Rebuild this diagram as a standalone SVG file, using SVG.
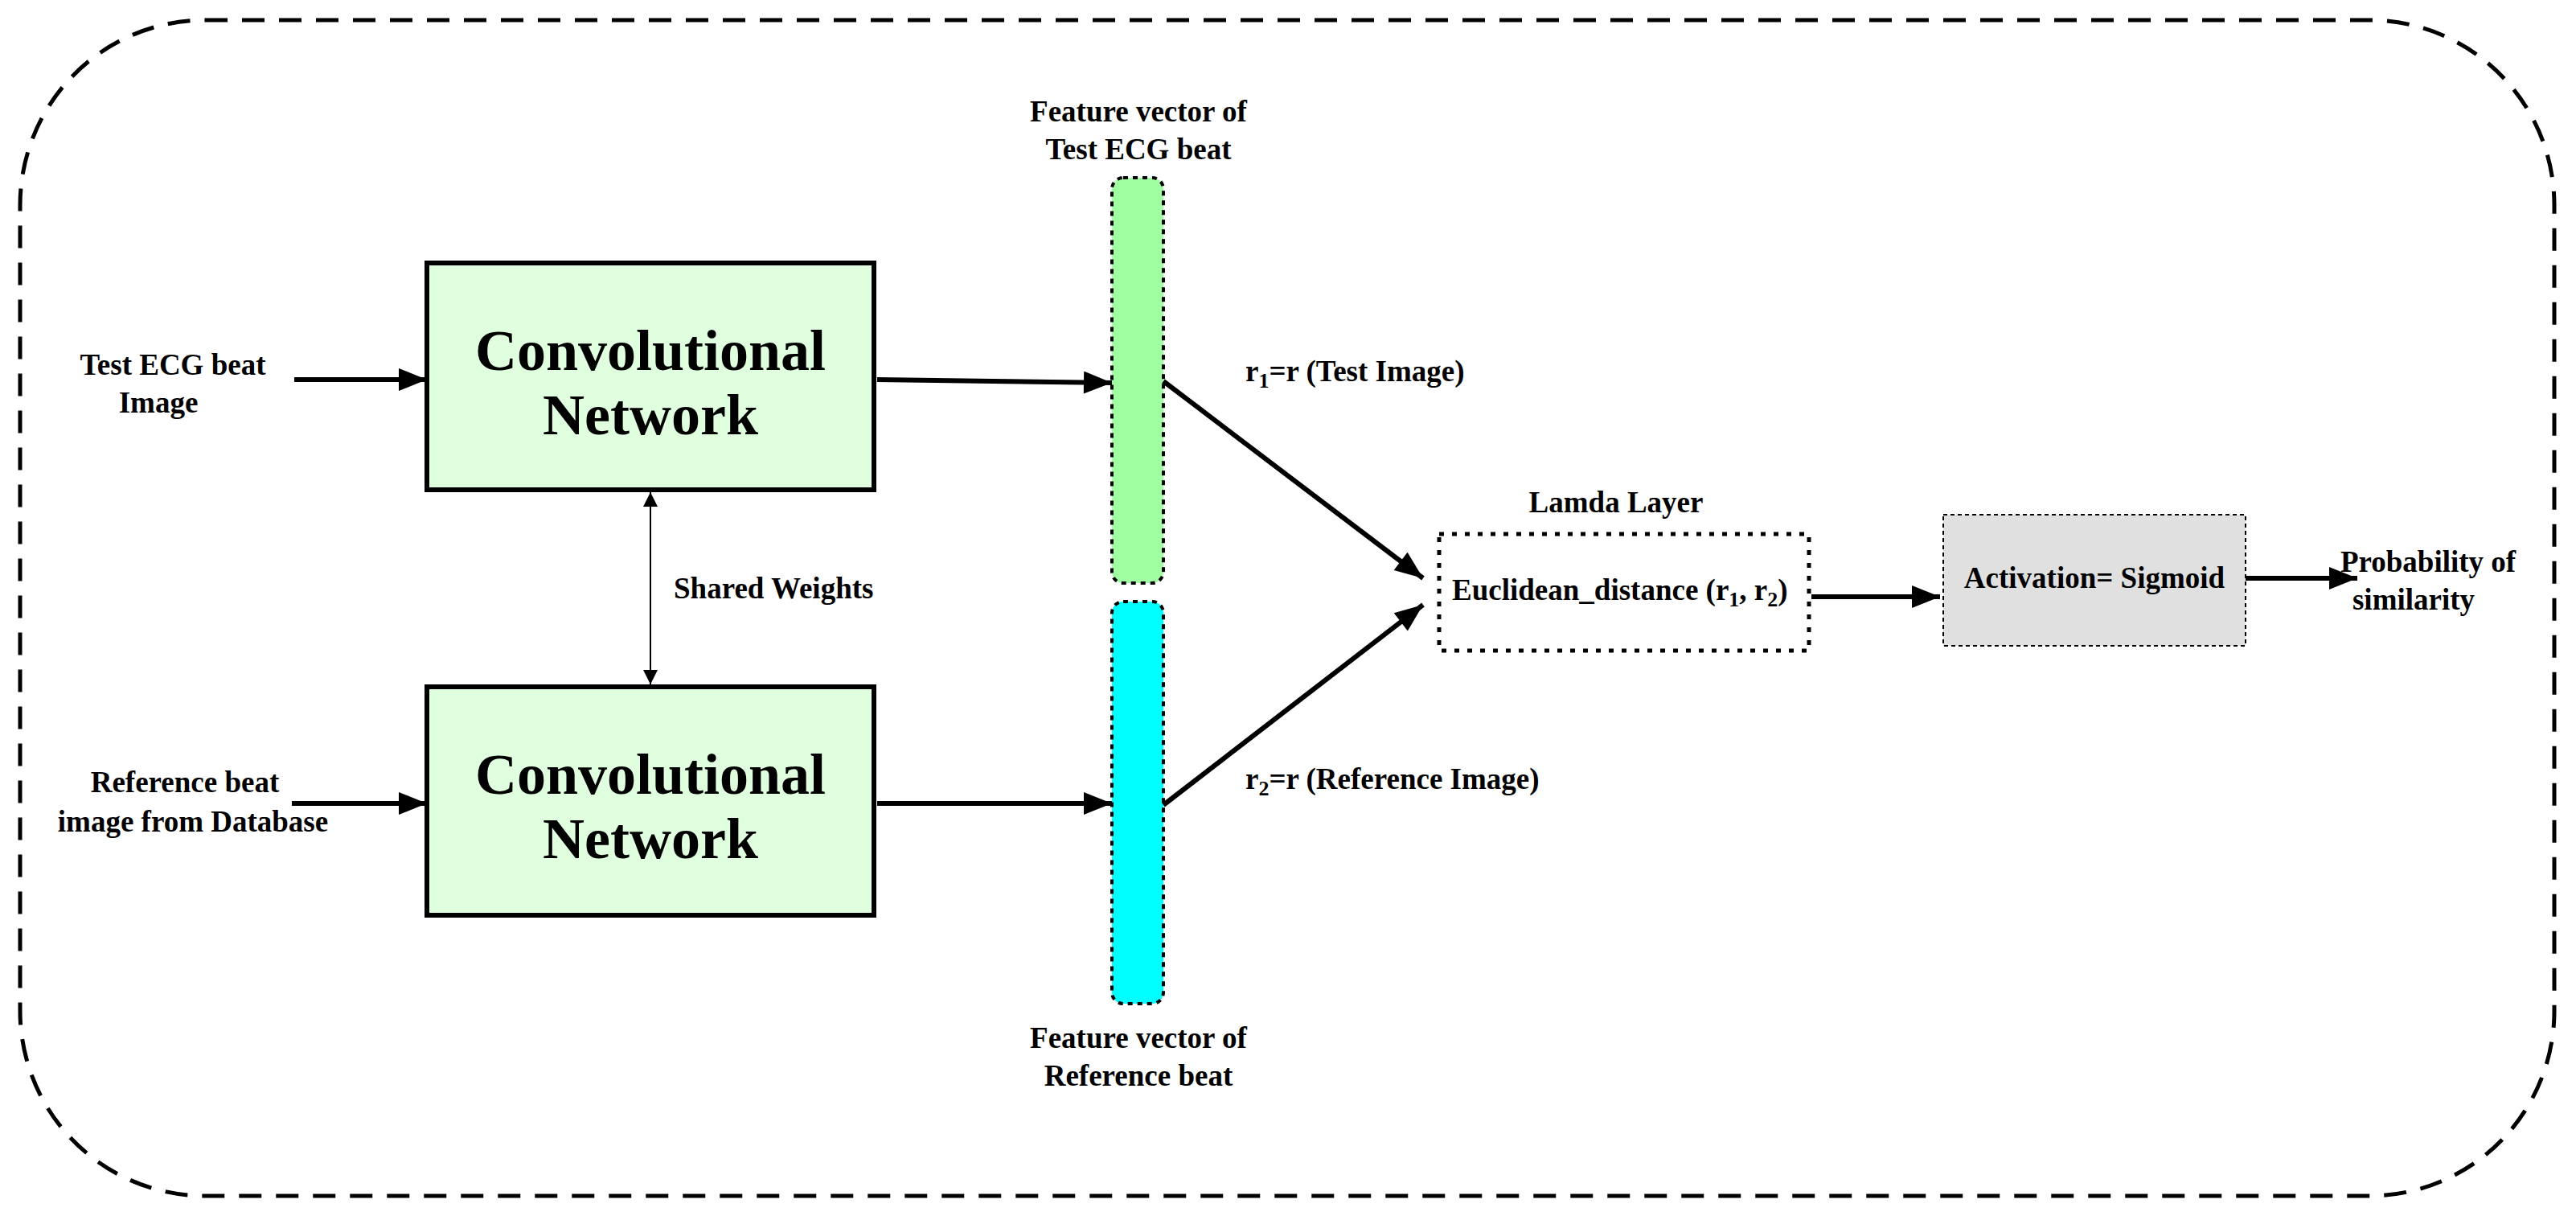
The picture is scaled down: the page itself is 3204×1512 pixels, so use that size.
<svg xmlns="http://www.w3.org/2000/svg" width="3204" height="1512" viewBox="0 0 3204 1512">
<style>
text{font-family:"Liberation Serif","Times New Roman",serif;font-weight:bold;fill:#000}
.lbl{font-size:37px}
.big{font-size:72px}
.c{text-anchor:middle}
.ln{stroke:#000;stroke-width:6;fill:none}
</style>
<defs>
<marker id="ah" markerWidth="10" markerHeight="8" refX="9" refY="4" orient="auto" markerUnits="userSpaceOnUse" viewBox="0 0 10 8"><path d="M0,0 L10,4 L0,8 z"/></marker>
<marker id="big" viewBox="0 0 10 8" refX="10" refY="4" markerWidth="36" markerHeight="28" orient="auto" markerUnits="userSpaceOnUse"><path d="M0,0 L10,4 L0,8 z"/></marker>
<marker id="sm" viewBox="0 0 10 10" refX="10" refY="5" markerWidth="18" markerHeight="28" orient="auto-start-reverse" markerUnits="userSpaceOnUse"><path d="M0,0 L10,5 L0,10 z"/></marker>
</defs>
<rect x="25" y="25" width="3152" height="1462" rx="230" fill="none" stroke="#000" stroke-width="5" stroke-dasharray="28,18"/>
<g id="conv1"><rect x="531" y="327" width="556" height="282" fill="#dfffdf" stroke="#000" stroke-width="6"/><text class="big c" x="809" y="460">Convolutional</text><text class="big c" x="809" y="540">Network</text></g>
<g id="conv2"><rect x="531" y="854" width="556" height="284" fill="#dfffdf" stroke="#000" stroke-width="6"/><text class="big c" x="809" y="987">Convolutional</text><text class="big c" x="809" y="1067">Network</text></g>
<g id="in1"><text class="lbl c" x="215" y="466">Test ECG beat</text><text class="lbl c" x="197" y="513">Image</text></g>
<g id="in2"><text class="lbl c" x="230" y="985">Reference beat</text><text class="lbl c" x="240" y="1034">image from Database</text></g>
<g id="fv1"><rect x="1383" y="221" width="64" height="504" rx="14" fill="#a0ffa0" stroke="#000" stroke-width="4" stroke-dasharray="6,6"/><text class="lbl c" x="1416" y="151">Feature vector of</text><text class="lbl c" x="1416" y="198">Test ECG beat</text></g>
<g id="fv2"><rect x="1383" y="748" width="64" height="500" rx="14" fill="#00ffff" stroke="#000" stroke-width="4" stroke-dasharray="6,6"/><text class="lbl c" x="1416" y="1303">Feature vector of</text><text class="lbl c" x="1416" y="1350">Reference beat</text></g>
<g id="lamda"><rect x="1790" y="664" width="460" height="145" fill="none" stroke="#000" stroke-width="5" stroke-dasharray="6,10"/><text class="lbl c" x="2010" y="637">Lamda Layer</text><text class="lbl" x="1806" y="746">Euclidean_distance (r<tspan font-size="26" dy="8">1</tspan><tspan dy="-8">, r</tspan><tspan font-size="26" dy="8">2</tspan><tspan dy="-8">)</tspan></text></g>
<g id="act"><rect x="2417" y="640" width="376" height="163" fill="#e0e0e0" stroke="#000" stroke-width="2" stroke-dasharray="5,4"/><text class="lbl c" x="2605" y="731">Activation= Sigmoid</text></g>
<g id="out"><text class="lbl c" x="3020" y="711">Probability of</text><text class="lbl c" x="3002" y="758">similarity</text></g>
<g id="connectors">
<line class="ln" x1="366" y1="472" x2="531" y2="472" marker-end="url(#big)"/>
<line class="ln" x1="363" y1="999" x2="531" y2="999" marker-end="url(#big)"/>
<line class="ln" x1="1091" y1="472" x2="1383" y2="476" marker-end="url(#big)"/>
<line class="ln" x1="1091" y1="999" x2="1383" y2="999" marker-end="url(#big)"/>
<line stroke="#000" stroke-width="2" x1="809" y1="612" x2="809" y2="851" marker-start="url(#sm)" marker-end="url(#sm)"/>
<line class="ln" x1="1447" y1="474" x2="1770" y2="719" marker-end="url(#big)"/>
<line class="ln" x1="1447" y1="1001" x2="1770" y2="752" marker-end="url(#big)"/>
<line class="ln" x1="2253" y1="742" x2="2413" y2="742" marker-end="url(#big)"/>
<line class="ln" x1="2793" y1="719" x2="2932" y2="719" marker-end="url(#big)"/>
<text class="lbl" x="838" y="744">Shared Weights</text>
<text class="lbl" x="1549" y="474">r<tspan font-size="26" dy="8">1</tspan><tspan dy="-8">=r (Test Image)</tspan></text>
<text class="lbl" x="1549" y="981">r<tspan font-size="26" dy="8">2</tspan><tspan dy="-8">=r (Reference Image)</tspan></text>
</g>
</svg>
